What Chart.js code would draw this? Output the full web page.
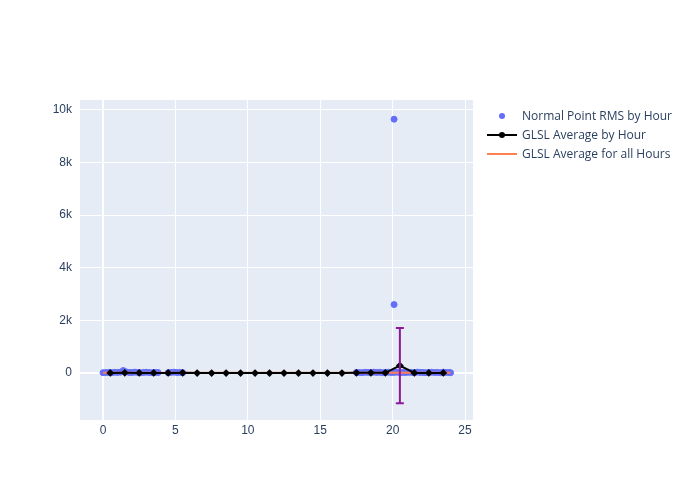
<!DOCTYPE html>
<html><head><script src="https://cdn.jsdelivr.net/npm/chart.js@4"></script>
<style>body{margin:0;background:#fff;font-family:"Open Sans",sans-serif}#w{position:relative;width:700px;height:500px}
.lg{position:absolute;left:487px;font-size:12px;color:#2a3f5f;display:flex;align-items:center}
.lg span.s{display:inline-block;width:30px;height:10px;position:relative;margin-right:5px}</style></head>
<body><div id="w"><canvas id="c" width="700" height="500"></canvas>
<div class="lg" style="top:107px"><span class="s"><i style="position:absolute;left:12px;top:2px;width:6px;height:6px;border-radius:50%;background:#636efa"></i></span>Normal Point RMS by Hour</div>
<div class="lg" style="top:126px"><span class="s"><i style="position:absolute;left:0;top:4px;width:30px;height:2px;background:#000"></i><i style="position:absolute;left:12px;top:2px;width:6px;height:6px;border-radius:50%;background:#000"></i></span>GLSL Average by Hour</div>
<div class="lg" style="top:145px"><span class="s"><i style="position:absolute;left:0;top:4px;width:30px;height:2px;background:#ff7f50"></i></span>GLSL Average for all Hours</div>
</div>
<script>
const npX=[0.0,0.2,0.4,0.6,0.8,1.0,1.2,1.4,1.6,1.8,2.0,2.2,2.4,2.6,2.8,3.0,3.2,3.4,3.6,3.8,4.5,4.7,4.9,5.1,5.3,5.5,17.5,17.7,17.9,18.1,18.3,18.5,18.7,18.9,19.1,19.3,19.5,19.7,19.9,20.1,20.1,20.1,20.3,20.5,20.7,20.9,21.1,21.3,21.5,21.7,21.9,22.1,22.3,22.5,22.7,22.9,23.1,23.3,23.5,23.7,23.9,24.0];
const npY=[10,15,20,10,25,20,30,90,40,20,15,30,20,10,20,25,15,10,20,15,10,20,30,15,20,10,20,15,10,25,20,15,30,20,25,10,20,30,15,9650,2600,20,30,10,20,15,25,20,10,30,20,15,10,20,25,15,20,10,30,20,15,10];
const hX=[0.5,1.5,2.5,3.5,4.5,5.5,6.5,7.5,8.5,9.5,10.5,11.5,12.5,13.5,14.5,15.5,16.5,17.5,18.5,19.5,20.5,21.5,22.5,23.5];
const hY=[0,5,0,0,0,5,-5,-5,-5,-5,-5,-5,-5,-5,-5,-5,-5,5,5,5,280,0,0,0];
const hErr=[20,20,20,20,20,20,20,20,20,20,20,20,20,20,20,20,20,20,20,20,1430,20,20,20];
const allX=[0,24], allY=[10,10];
const yTicks=[0,2000,4000,6000,8000,10000];
const xTicks=[0,5,10,15,20,25];
const eb={id:'eb',afterDatasetsDraw(ch){const c=ch.ctx,xs=ch.scales.x,ys=ch.scales.y;c.save();c.strokeStyle='#8b1a9b';c.lineWidth=2;
hX.forEach((x,i)=>{if(hErr[i]<100)return;const px=xs.getPixelForValue(x),t=ys.getPixelForValue(hY[i]+hErr[i]),b=ys.getPixelForValue(hY[i]-hErr[i]);c.beginPath();c.moveTo(px,t);c.lineTo(px,b);c.moveTo(px-4,t);c.lineTo(px+4,t);c.moveTo(px-4,b);c.lineTo(px+4,b);c.stroke();});c.restore();}};
const bg={id:'bg',beforeDraw(ch){const a=ch.chartArea,c=ch.ctx;c.fillStyle='#e5ecf6';c.fillRect(a.left,a.top,a.right-a.left,a.bottom-a.top);}};
new Chart(document.getElementById('c'),{type:'scatter',data:{datasets:[
{data:npX.map((x,i)=>({x,y:npY[i]})),backgroundColor:'#636efa',borderColor:'#636efa',pointRadius:3,order:3},
{type:'line',data:allX.map((x,i)=>({x,y:allY[i]})),borderColor:'#ff7f50',borderWidth:2,pointRadius:0,order:2},
{type:'line',data:hX.map((x,i)=>({x,y:hY[i]})),borderColor:'#000',backgroundColor:'#000',borderWidth:2,pointRadius:2.5,pointStyle:'rectRot',order:1}
]},plugins:[bg,eb],options:{responsive:false,animation:false,layout:{padding:{top:100,right:227,left:0,bottom:0}},
plugins:{legend:{display:false},tooltip:{enabled:false}},
scales:{x:{type:'linear',min:-1.59,max:25.55,afterFit(s){s.height=80},afterBuildTicks(s){s.ticks=xTicks.map(v=>({value:v}))},ticks:{color:'#2a3f5f',font:{size:12}},grid:{color:'#fff',lineWidth:c=>c.tick.value===0?2:1,drawTicks:false},border:{display:false}},
y:{min:-1790,max:10380,afterFit(s){s.width=80},afterBuildTicks(s){s.ticks=yTicks.map(v=>({value:v}))},ticks:{color:'#2a3f5f',font:{size:12},padding:8,callback:v=>v===0?'0':(v/1000)+'k'},grid:{color:'#fff',lineWidth:c=>c.tick.value===0?2:1,drawTicks:false},border:{display:false}}}}});
</script></body></html>
